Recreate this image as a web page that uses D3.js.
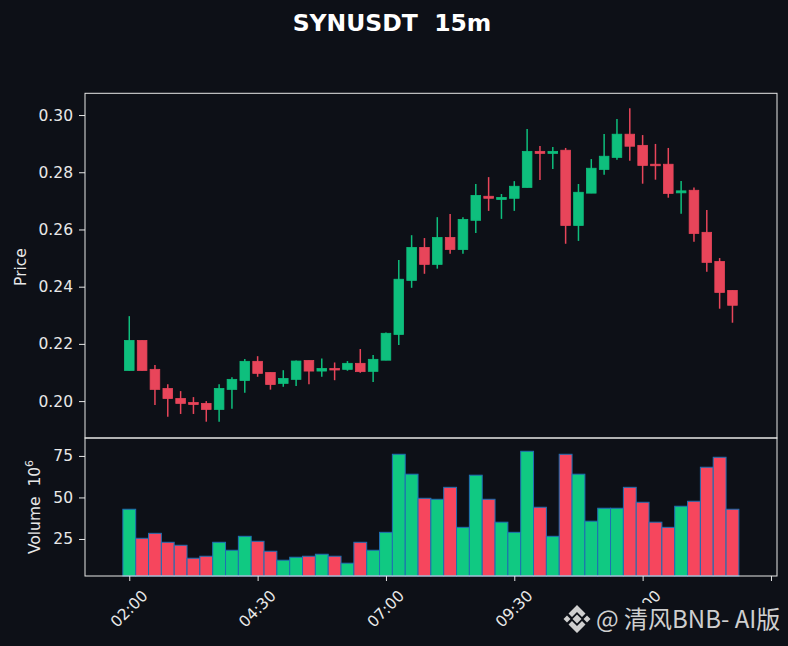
<!DOCTYPE html>
<html>
<head>
<meta charset="utf-8">
<script src="https://cdn.jsdelivr.net/npm/d3@7"></script>
<style>
  html, body { margin: 0; padding: 0; background: #0d1017; }
  svg { display: block; font-family: "DejaVu Sans", sans-serif; }
</style>
</head>
<body>
<script>
const width = 788;
const height = 646;

// 15m candles, 02:00 .. 13:45
const opens  = [0.2107,0.2212,0.2111,0.2044,0.2009,0.1995,0.1992,0.1971,0.2041,0.2072,
                0.2139,0.2100,0.2062,0.2076,0.2142,0.2105,0.2114,0.2111,0.2132,0.2104,
                0.2143,0.2233,0.2422,0.2537,0.2478,0.2572,0.2530,0.2632,0.2716,0.2705,
                0.2709,0.2747,0.2873,0.2866,0.2877,0.2614,0.2727,0.2810,0.2852,0.2933,
                0.2894,0.2828,0.2828,0.2728,0.2737,0.2590,0.2488,0.2387];
const highs  = [0.2297,0.2212,0.2126,0.2059,0.2035,0.2014,0.2000,0.2059,0.2083,0.2147,
                0.2157,0.2100,0.2108,0.2142,0.2142,0.2149,0.2135,0.2140,0.2182,0.2161,
                0.2240,0.2493,0.2580,0.2570,0.2643,0.2654,0.2643,0.2759,0.2783,0.2724,
                0.2769,0.2951,0.2892,0.2888,0.2885,0.2759,0.2846,0.2934,0.2986,0.3024,
                0.2930,0.2899,0.2885,0.2769,0.2747,0.2668,0.2500,0.2387];
const lows   = [0.2107,0.2107,0.1986,0.1945,0.1955,0.1955,0.1928,0.1928,0.1973,0.2029,
                0.2085,0.2040,0.2050,0.2053,0.2059,0.2085,0.2073,0.2106,0.2099,0.2067,
                0.2143,0.2196,0.2396,0.2445,0.2463,0.2515,0.2515,0.2588,0.2665,0.2637,
                0.2665,0.2747,0.2773,0.2811,0.2550,0.2560,0.2727,0.2791,0.2844,0.2840,
                0.2760,0.2774,0.2711,0.2655,0.2557,0.2452,0.2323,0.2274];
const closes = [0.2212,0.2107,0.2041,0.2009,0.1992,0.1988,0.1971,0.2044,0.2076,0.2139,
                0.2097,0.2058,0.2079,0.2140,0.2105,0.2114,0.2110,0.2132,0.2103,0.2146,
                0.2237,0.2426,0.2537,0.2478,0.2572,0.2530,0.2635,0.2719,0.2709,0.2712,
                0.2751,0.2873,0.2866,0.2873,0.2614,0.2730,0.2814,0.2856,0.2933,0.2891,
                0.2824,0.2823,0.2726,0.2735,0.2586,0.2485,0.2380,0.2335];
// volume in millions
const volumes = [42.9,25.4,28.4,23.0,21.2,13.4,14.6,23.0,18.2,26.6,
                 23.6,17.6,12.2,14.0,14.6,15.8,14.6,10.4,23.0,18.2,
                 29.0,76.0,64.0,49.5,48.9,56.1,32.0,63.4,48.9,35.1,
                 29.0,77.8,44.1,26.6,76.0,64.0,35.7,43.5,43.5,56.1,
                 47.1,35.1,32.0,44.7,47.7,68.2,74.2,42.9];

// last tick lies past the data and carries no label
const tickIdx    = [0, 10, 20, 30, 40, 50];
const tickLabels = ["02:00", "04:30", "07:00", "09:30", "12:00", ""];
const priceTicks = [0.20, 0.22, 0.24, 0.26, 0.28, 0.30];
const volTicks   = [25, 50, 75];

const bg = "#0d1017";
const up = "#0ebf7d";
const down = "#e8455a";
const upVol = "#10c982";
const downVol = "#f6465d";
const fg = "#e8e8e8";

const candles = opens.map((o, i) => ({
  i, o, h: highs[i], l: lows[i], c: closes[i], v: volumes[i]
}));

const svg = d3.select("body")
  .append("svg")
  .attr("width", width)
  .attr("height", height)
  .style("background", bg);

// panels
const left = 85, right = 777;
const pTop = 93.3, pBot = 438, vBot = 576;

const x = d3.scaleLinear().domain([-3.45, 50.47]).range([left, right]);
const y = d3.scaleLinear().domain([0.1871, 0.3076]).range([pBot, pTop]);
const yv = d3.scaleLinear().domain([2.7, 85.8]).range([vBot, pBot]);

const step = x(1) - x(0);

// title
svg.append("text")
  .attr("x", 392)
  .attr("y", 31)
  .attr("text-anchor", "middle")
  .attr("fill", "#ffffff")
  .style("font-size", "23.5px")
  .style("font-weight", "bold")
  .style("white-space", "pre")
  .text("SYNUSDT  15m");

// --- price panel ---
const pg = svg.append("g");

pg.selectAll(".wick")
  .data(candles)
  .enter()
  .append("line")
  .attr("class", "wick")
  .attr("x1", d => x(d.i))
  .attr("x2", d => x(d.i))
  .attr("y1", d => y(d.h))
  .attr("y2", d => y(d.l))
  .attr("stroke", d => d.c >= d.o ? up : down)
  .attr("stroke-width", 1.5);

pg.selectAll(".body")
  .data(candles)
  .enter()
  .append("rect")
  .attr("class", "body")
  .attr("x", d => x(d.i - 0.375))
  .attr("width", step * 0.75)
  .attr("y", d => y(Math.max(d.o, d.c)))
  .attr("height", d => Math.max(1.5, Math.abs(y(d.o) - y(d.c))))
  .attr("fill", d => d.c >= d.o ? up : down)
  .attr("stroke", d => d.c >= d.o ? up : down)
  .attr("stroke-width", 0.8);

// --- volume panel ---
const vg = svg.append("g");

vg.selectAll(".vol")
  .data(candles)
  .enter()
  .append("rect")
  .attr("class", "vol")
  .attr("x", d => x(d.i - 0.5))
  .attr("width", step)
  .attr("y", d => yv(d.v))
  .attr("height", d => vBot - yv(d.v))
  .attr("fill", d => d.c >= d.o ? upVol : downVol)
  .attr("stroke", "#1f6fb4")
  .attr("stroke-width", 1);

// frames
svg.append("rect")
  .attr("x", left).attr("y", pTop)
  .attr("width", right - left).attr("height", pBot - pTop)
  .attr("fill", "none").attr("stroke", fg).attr("stroke-width", 1);
svg.append("rect")
  .attr("x", left).attr("y", pBot)
  .attr("width", right - left).attr("height", vBot - pBot)
  .attr("fill", "none").attr("stroke", fg).attr("stroke-width", 1);

// axes
function styleAxis(g) {
  g.select(".domain").remove();
  g.selectAll(".tick line").attr("stroke", fg);
  g.selectAll(".tick text")
    .attr("fill", fg)
    .style("font-family", "DejaVu Sans, sans-serif")
    .style("font-size", "15.5px");
}

svg.append("g")
  .attr("transform", `translate(${left},0)`)
  .call(d3.axisLeft(y).tickValues(priceTicks).tickFormat(d3.format(".2f")).tickSize(6).tickPadding(6))
  .call(styleAxis);

svg.append("g")
  .attr("transform", `translate(${left},0)`)
  .call(d3.axisLeft(yv).tickValues(volTicks).tickSize(6).tickPadding(6))
  .call(styleAxis);

svg.append("g")
  .attr("transform", `translate(0,${vBot})`)
  .call(d3.axisBottom(x).tickValues(tickIdx).tickSize(5).tickFormat(""))
  .call(styleAxis);

svg.append("g")
  .selectAll("text")
  .data(tickIdx)
  .enter()
  .append("text")
  .attr("transform", d => `translate(${x(d)},${vBot + 33}) rotate(-45)`)
  .attr("text-anchor", "middle")
  .attr("dominant-baseline", "central")
  .attr("fill", fg)
  .style("font-size", "15.5px")
  .text((d, i) => tickLabels[i]);

// axis labels
svg.append("text")
  .attr("transform", "translate(26,267) rotate(-90)")
  .attr("text-anchor", "middle")
  .attr("fill", fg)
  .style("font-size", "15.5px")
  .text("Price");

const vl = svg.append("text")
  .attr("transform", "translate(40,507) rotate(-90)")
  .attr("text-anchor", "middle")
  .attr("fill", fg)
  .style("font-size", "15.5px")
  .style("white-space", "pre");
vl.append("tspan").text("Volume  10");
vl.append("tspan").attr("dy", -7).style("font-size", "11px").text("6");

// watermark
const wm = svg.append("g");
wm.append("rect")
  .attr("x", 556).attr("y", 603)
  .attr("width", 232).attr("height", 43)
  .attr("fill", bg);

const logo = wm.append("g")
  .attr("transform", "translate(577,619)")
  .attr("fill", "#cfcfcf");
logo.append("polygon").attr("points", "0,-4.5 4.5,0 0,4.5 -4.5,0");
logo.append("polygon").attr("points", "-10,-3.5 -6.5,0 -10,3.5 -13.5,0");
logo.append("polygon").attr("points", "10,-3.5 13.5,0 10,3.5 6.5,0");
logo.append("polygon").attr("points", "0,-14 8.5,-5.5 5,-2 0,-7 -5,-2 -8.5,-5.5");
logo.append("polygon").attr("points", "0,14 8.5,5.5 5,2 0,7 -5,2 -8.5,5.5");

wm.append("text")
  .attr("x", 596)
  .attr("y", 628)
  .attr("fill", "#cfcfcf")
  .style("font-family", "'Noto Sans CJK SC', sans-serif")
  .style("font-size", "24px")
  .style("white-space", "pre")
  .text("@ 清风BNB- AI版");
</script>
</body>
</html>
